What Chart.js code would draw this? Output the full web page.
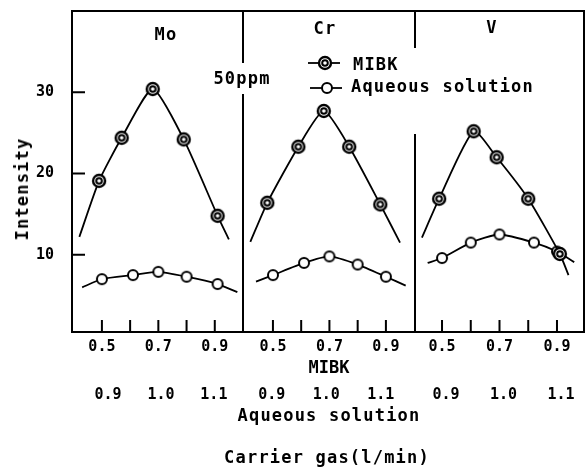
<!DOCTYPE html>
<html>
<head>
<meta charset="utf-8">
<script src="https://cdn.jsdelivr.net/npm/chart.js@4.4.0/dist/chart.umd.min.js"></script>
<style>
body{margin:0;background:#fff;}
#wrap{position:relative;width:586px;height:468px;overflow:hidden;background:#fff;
  font-family:"DejaVu Sans Mono",monospace;font-weight:bold;color:#000;}
#wrap canvas{position:absolute;left:0;top:0;}
.lbl{position:absolute;font-size:17px;letter-spacing:1.2px;line-height:20px;white-space:nowrap;
  transform:translate(-50%,-50%);}
.lbl.left{transform:translate(0,-50%);}
</style>
</head>
<body>
<div id="wrap">
  <canvas id="moCanvas" width="586" height="468"></canvas>
  <canvas id="crCanvas" width="586" height="468"></canvas>
  <canvas id="vCanvas" width="586" height="468"></canvas>
  <canvas id="legMibk" width="40" height="18" style="left:304px;top:54px"></canvas>
  <canvas id="legAq" width="40" height="18" style="left:306px;top:79px"></canvas>
  <div class="lbl" style="left:166px;top:34px">Mo</div>
  <div class="lbl" style="left:325px;top:28px">Cr</div>
  <div class="lbl" style="left:492px;top:27px">V</div>
  <div class="lbl" style="left:242px;top:78px">50ppm</div>
  <div class="lbl left" style="left:353px;top:64px">MIBK</div>
  <div class="lbl left" style="left:351px;top:86px">Aqueous solution</div>
  <div class="lbl" style="left:22px;top:189px;transform:translate(-50%,-50%) rotate(-90deg)">Intensity</div>
  <div class="lbl" style="left:329px;top:415px">Aqueous solution</div>
  <div class="lbl" style="left:327px;top:457px">Carrier gas(l/min)</div>
</div>
<script>
// carrier gas flow (MIBK scale) and intensity, first and last pair = ends of the drawn curve
var moMibkX = [0.42, 0.49, 0.57, 0.68, 0.79, 0.91, 0.95];
var moMibkY = [12.2, 19.1, 24.4, 30.4, 24.2, 14.8, 11.9];
var moAqX = [0.43, 0.50, 0.61, 0.70, 0.80, 0.91, 0.98];
var moAqY = [6.0, 7.0, 7.5, 7.9, 7.3, 6.4, 5.4];

var crMibkX = [0.42, 0.48, 0.59, 0.68, 0.77, 0.88, 0.95];
var crMibkY = [11.6, 16.4, 23.3, 27.7, 23.3, 16.2, 11.5];
var crAqX = [0.44, 0.50, 0.61, 0.70, 0.80, 0.90, 0.97];
var crAqY = [6.7, 7.5, 9.0, 9.8, 8.8, 7.3, 6.2];

var vMibkX = [0.43, 0.49, 0.61, 0.69, 0.80, 0.91, 0.94];
var vMibkY = [12.1, 16.9, 25.2, 22.0, 16.9, 10.1, 7.5];
var vAqX = [0.45, 0.50, 0.60, 0.70, 0.82, 0.90, 0.96];
var vAqY = [9.0, 9.6, 11.5, 12.5, 11.5, 10.4, 9.1];

var mibkTicks = [0.5, 0.6, 0.7, 0.8, 0.9];
var mibkLabels = ["0.5", "", "0.7", "", "0.9"];
var aqTicks = [0.9, 1.0, 1.1];
var aqLabels = ["0.9", "1.0", "1.1"];
var yTicks = [10, 20, 30];
var yLabels = ["10", "20", "30"];

var ink = "#000";
Chart.defaults.font.family = '"DejaVu Sans Mono", monospace';
Chart.defaults.font.weight = "bold";
Chart.defaults.color = ink;

function makeMark(double){
    var s = double ? 18 : 14;
    var c = document.createElement("canvas");
    c.width = s; c.height = s;
    var g = c.getContext("2d");
    g.fillStyle = "#fff";
    g.strokeStyle = ink;
    g.lineWidth = double ? 2.4 : 2;
    g.beginPath();
    g.arc(s/2, s/2, double ? 6 : 5, 0, Math.PI*2);
    g.fill(); g.stroke();
    if (double){
        g.lineWidth = 2;
        g.beginPath();
        g.arc(s/2, s/2, 2.8, 0, Math.PI*2);
        g.stroke();
    }
    return c;
}
var ringMark = makeMark(true);
var openMark = makeMark(false);

function pts(xs, ys){
    return xs.map(function(x, i){ return {x: x, y: ys[i]}; });
}
function endsHidden(ctx){
    var n = ctx.dataset.data.length;
    return (ctx.dataIndex === 0 || ctx.dataIndex === n - 1) ? 0 : 6;
}

// box edges and inward tick marks
var framePlugin = {
    id: "frame",
    afterDraw: function(chart, args, o){
        var ctx = chart.ctx, a = chart.chartArea, sx = chart.scales.x, sy = chart.scales.y;
        ctx.save();
        ctx.strokeStyle = ink;
        ctx.lineWidth = 2;
        ctx.lineCap = "square";
        ctx.beginPath();
        ctx.moveTo(a.left, a.top); ctx.lineTo(a.right, a.top);
        ctx.moveTo(a.left, a.bottom); ctx.lineTo(a.right, a.bottom);
        if (o.leftEdge){
            ctx.moveTo(a.left, a.top); ctx.lineTo(a.left, a.bottom);
        }
        if (o.gap){
            ctx.moveTo(a.right, a.top); ctx.lineTo(a.right, a.top + o.gap[0]);
            ctx.moveTo(a.right, a.top + o.gap[1]); ctx.lineTo(a.right, a.bottom);
        } else {
            ctx.moveTo(a.right, a.top); ctx.lineTo(a.right, a.bottom);
        }
        sx.ticks.forEach(function(t){
            var x = sx.getPixelForValue(t.value);
            ctx.moveTo(x, a.bottom); ctx.lineTo(x, a.bottom - 11);
        });
        if (o.leftEdge){
            sy.ticks.forEach(function(t){
                var y = sy.getPixelForValue(t.value);
                ctx.moveTo(a.left, y); ctx.lineTo(a.left + 12, y);
            });
        }
        ctx.stroke();
        ctx.restore();
    }
};

function panel(id, p){
    return new Chart(document.getElementById(id), {
        type: "scatter",
        data: {
            datasets: [
            {
                label: "MIBK",
                data: pts(p.mibkX, p.mibkY),
                showLine: true,
                tension: 0.2,
                borderColor: ink,
                borderWidth: 1.8,
                pointStyle: ringMark,
                pointRadius: endsHidden
            },
            {
                label: "Aqueous solution",
                data: pts(p.aqX, p.aqY),
                showLine: true,
                tension: 0.2,
                borderColor: ink,
                borderWidth: 1.8,
                pointStyle: openMark,
                pointRadius: endsHidden
            }
            ]
        },
        options: {
            responsive: false,
            animation: false,
            events: [],
            clip: false,
            layout: {padding: {left: p.left, right: 586 - p.right, top: 11, bottom: 59}},
            plugins: {
                legend: {display: false},
                tooltip: {enabled: false},
                frame: {leftEdge: p.yAxis, gap: p.gap}
            },
            scales: {
                x: {
                    type: "linear",
                    position: "bottom",
                    weight: 0,
                    min: p.xMin, max: p.xMax,
                    afterBuildTicks: function(s){ s.ticks = mibkTicks.map(function(v){ return {value: v}; }); },
                    afterFit: function(s){ s.height = 47; },
                    grid: {display: false, drawTicks: false},
                    border: {display: false},
                    ticks: {
                        autoSkip: false, maxRotation: 0, padding: 6,
                        font: {size: 15},
                        callback: function(v, i){ return mibkLabels[i]; }
                    },
                    title: {display: p.xTitle, text: "MIBK", font: {size: 17}, padding: 0}
                },
                x2: {
                    type: "linear",
                    position: "bottom",
                    weight: 1,
                    min: p.aqMin, max: p.aqMax,
                    afterBuildTicks: function(s){ s.ticks = aqTicks.map(function(v){ return {value: v}; }); },
                    afterFit: function(s){ s.height = 30; },
                    grid: {display: false, drawTicks: false},
                    border: {display: false},
                    ticks: {
                        autoSkip: false, maxRotation: 0, padding: 7,
                        font: {size: 15},
                        callback: function(v, i){ return aqLabels[i]; }
                    }
                },
                y: {
                    type: "linear",
                    display: p.yAxis,
                    min: 0.5, max: 40,
                    afterBuildTicks: function(s){ s.ticks = yTicks.map(function(v){ return {value: v}; }); },
                    afterFit: function(s){
                        s.width = p.yAxis ? 72 : 0;
                        s.paddingTop = 0;
                        s.paddingBottom = 0;
                    },
                    grid: {display: false, drawTicks: false},
                    border: {display: false},
                    ticks: {
                        padding: 18,
                        font: {size: 15},
                        callback: function(v, i){ return yLabels[i]; }
                    }
                }
            }
        },
        plugins: [framePlugin]
    });
}

var moChart = panel("moCanvas", {
    mibkX: moMibkX, mibkY: moMibkY, aqX: moAqX, aqY: moAqY,
    left: 0, right: 243, xMin: 0.394, xMax: 1.0, aqMin: 0.832, aqMax: 1.155,
    yAxis: true, xTitle: false, gap: [51, 84]
});
var crChart = panel("crCanvas", {
    mibkX: crMibkX, mibkY: crMibkY, aqX: crAqX, aqY: crAqY,
    left: 243, right: 415, xMin: 0.394, xMax: 1.003, aqMin: 0.847, aqMax: 1.163,
    yAxis: false, xTitle: true, gap: [36, 124]
});
var vChart = panel("vCanvas", {
    mibkX: vMibkX, mibkY: vMibkY, aqX: vAqX, aqY: vAqY,
    left: 415, right: 584, xMin: 0.406, xMax: 0.994, aqMin: 0.846, aqMax: 1.14,
    yAxis: false, xTitle: false, gap: null
});

//legend samples
function legendSample(id, mark){
    var g = document.getElementById(id).getContext("2d");
    g.strokeStyle = ink;
    g.lineWidth = 1.8;
    g.beginPath();
    g.moveTo(4, 9); g.lineTo(36, 9);
    g.stroke();
    g.drawImage(mark, 21 - mark.width/2, 9 - mark.height/2);
}
legendSample("legMibk", ringMark);
legendSample("legAq", openMark);
</script>
</body>
</html>
